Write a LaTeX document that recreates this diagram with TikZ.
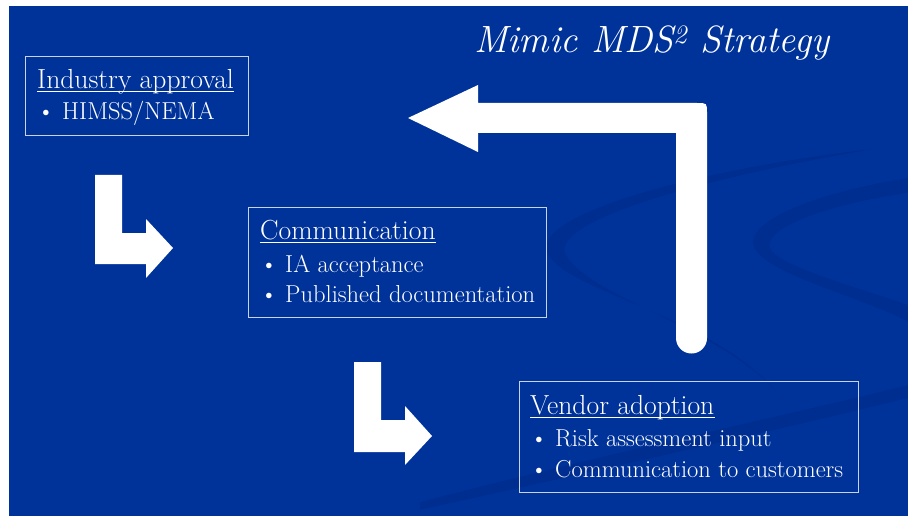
\documentclass[tikz,border=0pt]{standalone}
\usepackage{fontspec}
\definecolor{slide}{RGB}{0,51,153}
\definecolor{swoosh}{RGB}{0,42,135}
\definecolor{boxline}{RGB}{200,210,232}
\tikzset{
  box/.style={draw=boxline, line width=1.2pt, anchor=north west, inner sep=0pt},
  head/.style={anchor=base west, inner sep=0pt, text=white, font=\fontsize{27.6}{30}\selectfont},
  item/.style={anchor=base west, inner sep=0pt, text=white, font=\fontsize{24.5}{27}\selectfont},
  uline/.style={draw=white, line width=1pt},
  bigarrow/.style={fill=white},
  swooshfill/.style={fill=swoosh, opacity=0.45}
}
\begin{document}
\begin{tikzpicture}[x=1pt,y=-1pt]
\useasboundingbox (0,0) rectangle (908,516);
\fill[white] (0,0) rectangle (908,516);
\fill[slide] (9,6) rectangle (908,516);
% background swooshes
\fill[swooshfill] (880,148) .. controls (700,168) and (525,215) .. (548,255)
  .. controls (572,295) and (735,320) .. (790,410)
  .. controls (745,335) and (592,300) .. (566,255)
  .. controls (548,222) and (700,178) .. (880,148) -- cycle;
\fill[swooshfill] (908,178) .. controls (800,195) and (735,228) .. (757,252)
  .. controls (778,278) and (870,300) .. (908,322) -- (908,305)
  .. controls (860,288) and (785,268) .. (771,250)
  .. controls (758,228) and (835,203) .. (908,193) -- cycle;
\fill[swooshfill] (420,502) .. controls (600,455) and (800,412) .. (908,385)
  -- (908,398) .. controls (800,425) and (600,470) .. (420,510) -- cycle;
% title
\node[anchor=base west, inner sep=0pt, text=white, font=\fontsize{38}{41}\selectfont\itshape] (title) at (474,53) {Mimic MDS\textsuperscript{2} Strategy};
% boxes
\node[box, minimum width=223pt, minimum height=79pt] (b1) at (25,56) {};
\node[box, minimum width=298pt, minimum height=110pt] (b2) at (248,207) {};
\node[box, minimum width=339pt, minimum height=111pt] (b3) at (519,381) {};
% box texts
\node[head] (h1) at (37,89) {Industry approval};
\node[item] (i11) at (37,120) {\textbullet\ HIMSS/NEMA};
\node[head] (h2) at (260,239) {Communication};
\node[item] (i21) at (260,272) {\textbullet\ IA acceptance};
\node[item] (i22) at (260,302) {\textbullet\ Published documentation};
\node[head] (h3) at (530,414) {Vendor adoption};
\node[item] (i31) at (530,446) {\textbullet\ Risk assessment input};
\node[item] (i32) at (530,477) {\textbullet\ Communication to customers};
\draw[uline] ([yshift=-3pt]h1.base west) -- ([yshift=-3pt]h1.base east);
\draw[uline] ([yshift=-3pt]h2.base west) -- ([yshift=-3pt]h2.base east);
\draw[uline] ([yshift=-3pt]h3.base west) -- ([yshift=-3pt]h3.base east);
% L arrows
\fill[bigarrow] (95,175) -- (122,175) -- (122,233) -- (146,233) -- (146,219) -- (173,248)
  -- (146,278) -- (146,264) -- (95,264) -- cycle;
\fill[bigarrow] (354,362) -- (381,362) -- (381,420) -- (405,420) -- (405,406) -- (432,436)
  -- (405,465) -- (405,452) -- (354,452) -- cycle;
% big return arrow
\fill[bigarrow] (408,118) -- (478,85) -- (478,103) -- (697,103)
  .. controls (707,103) .. (707,113) -- (707,338)
  .. controls (707,346.6) and (700.1,353.5) .. (691.5,353.5)
  .. controls (682.9,353.5) and (676,346.6) .. (676,338)
  -- (676,133) -- (478,133) -- (478,152) -- cycle;
\end{tikzpicture}
\end{document}
